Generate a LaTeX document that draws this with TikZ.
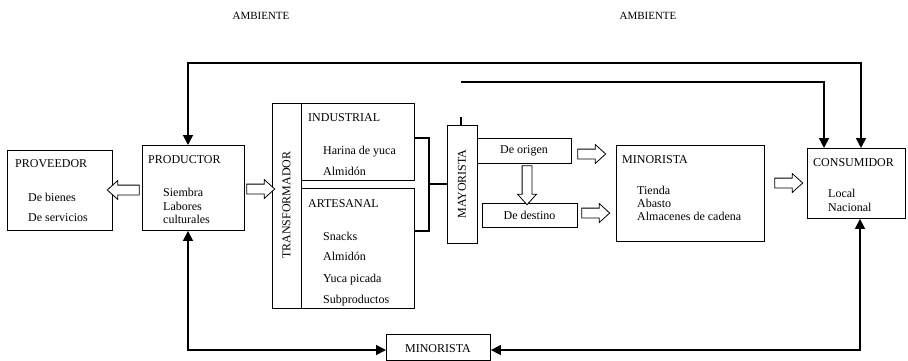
\documentclass[tikz,border=0pt]{standalone}
\usepackage{fontspec}
\setmainfont{Liberation Serif}
\usetikzlibrary{arrows.meta,shapes.arrows,calc}
\begin{document}
\begin{tikzpicture}[x=1pt,y=-1pt,
  font=\fontsize{12}{14}\selectfont,
  box/.style={draw, line width=0.9pt, inner sep=0pt},
  txt/.style={inner sep=0pt, anchor=base west},
  tipA/.tip={Triangle[length=10pt,width=10pt]},
  conn/.style={line width=1.5pt},
  thin/.style={line width=1.2pt},
  hollow/.style={single arrow, draw, fill=white, line width=0.8pt, inner sep=4.5pt,
     single arrow head extend=4.5pt, single arrow tip angle=84, single arrow head indent=0pt},
  amb/.style={inner sep=0pt, anchor=base, font=\fontsize{11}{13}\selectfont}
]
\useasboundingbox (0,0) rectangle (908,360);

% ambient labels
\node[amb] (amb1) at (261,19) {AMBIENTE};
\node[amb] (amb2) at (648,19) {AMBIENTE};

% PROVEEDOR
\node[box, minimum width=105pt, minimum height=80pt, anchor=north west] (prov) at (7,150) {};
\node[txt] (provt) at (15,167) {PROVEEDOR};
\node[txt] (prov1) at (28,201) {De bienes};
\node[txt] (prov2) at (28,221) {De servicios};

% PRODUCTOR
\node[box, minimum width=102pt, minimum height=85pt, anchor=north west] (prod) at (142,145) {};
\node[txt] (prodt) at (148,163) {PRODUCTOR};
\node[txt] (prod1) at (163,196) {Siembra};
\node[txt] (prod2) at (163,210) {Labores};
\node[txt] (prod3) at (163,223) {culturales};

% TRANSFORMADOR
\node[box, minimum width=29pt, minimum height=205pt, anchor=north west] (trans) at (272,103) {};
\node[rotate=90, inner sep=0pt] (transt) at (286.5,205) {TRANSFORMADOR};

% INDUSTRIAL
\node[box, minimum width=113pt, minimum height=77pt, anchor=north west] (ind) at (301,103) {};
\node[txt] (indt) at (308,121) {INDUSTRIAL};
\node[txt] (ind1) at (323,154) {Harina de yuca};
\node[txt] (ind2) at (323,175) {Almidón};

% ARTESANAL
\node[box, minimum width=113pt, minimum height=120pt, anchor=north west] (art) at (301,188) {};
\node[txt] (artt) at (308,207) {ARTESANAL};
\node[txt] (art1) at (323,240) {Snacks};
\node[txt] (art2) at (323,260) {Almidón};
\node[txt] (art3) at (323,282) {Yuca picada};
\node[txt] (art4) at (323,303) {Subproductos};

% MAYORISTA
\node[box, minimum width=30pt, minimum height=118pt, anchor=north west] (may) at (447,125) {};
\node[rotate=90, inner sep=0pt] (mayt) at (462,184) {MAYORISTA};
\coordinate (tick) at (461,117);
\draw[thin] (tick) -- (tick |- may.north);

% bracket
\coordinate (bk1) at (429,138);
\coordinate (bk2) at (429,231);
\coordinate (bk3) at (429,184);
\draw[thin] (ind.east |- bk1) -- (bk1) -- (bk2) -- (art.east |- bk2);
\draw[conn] (bk3) -- (may.west |- bk3);

% De origen / De destino
\node[box, minimum width=94pt, minimum height=25pt, anchor=north west] (orig) at (477,138) {};
\node[inner sep=0pt] (origt) at (524,151) {De origen};
\node[box, minimum width=95pt, minimum height=24pt, anchor=north west] (dest) at (482,203) {};
\node[inner sep=0pt] (destt) at (529.5,215) {De destino};

% MINORISTA
\node[box, minimum width=148pt, minimum height=96pt, anchor=north west] (mino) at (616,145) {};
\node[txt] (minot) at (622,163) {MINORISTA};
\node[txt] (mino1) at (637,194) {Tienda};
\node[txt] (mino2) at (637,207) {Abasto};
\node[txt] (mino3) at (637,220) {Almacenes de cadena};

% CONSUMIDOR
\node[box, minimum width=98pt, minimum height=70pt, anchor=north west] (cons) at (807,148) {};
\node[txt] (const) at (813,166) {CONSUMIDOR};
\node[txt] (cons1) at (828,197) {Local};
\node[txt] (cons2) at (828,211) {Nacional};

% bottom MINORISTA
\node[box, minimum width=104pt, minimum height=26pt, anchor=north west] (minb) at (386,333.5) {};
\node[inner sep=0pt] (minbt) at (438,349) {MINORISTA};

% hollow arrows
\node[hollow, minimum height=32pt, shape border rotate=180] (h1) at (126,190) {};
\node[hollow, minimum height=28pt] (h2) at (258,189) {};
\node[hollow, minimum height=28pt] (h3) at (589,154) {};
\node[hollow, minimum height=39pt, shape border rotate=270] (h4) at (527,182.5) {};
\node[hollow, minimum height=28pt] (h5) at (593,213) {};
\node[hollow, minimum height=28pt] (h6) at (786,183) {};

% connectors
\coordinate (ta) at (188,63);
\coordinate (tb) at (861,63);
\draw[conn, tipA-tipA] (ta |- prod.north) -- (ta) -- (tb) -- (tb |- cons.north);
\coordinate (sa) at (461,82);
\coordinate (sb) at (824,82);
\draw[conn, -tipA] (sa) -- (sb) -- (sb |- cons.north);
\coordinate (ba) at (188,350);
\coordinate (bb) at (860,350);
\draw[conn, tipA-tipA] (ba |- prod.south) -- (ba) -- (minb.west |- ba);
\draw[conn, tipA-tipA] (bb |- cons.south) -- (bb) -- (minb.east |- bb);
\end{tikzpicture}
\end{document}
